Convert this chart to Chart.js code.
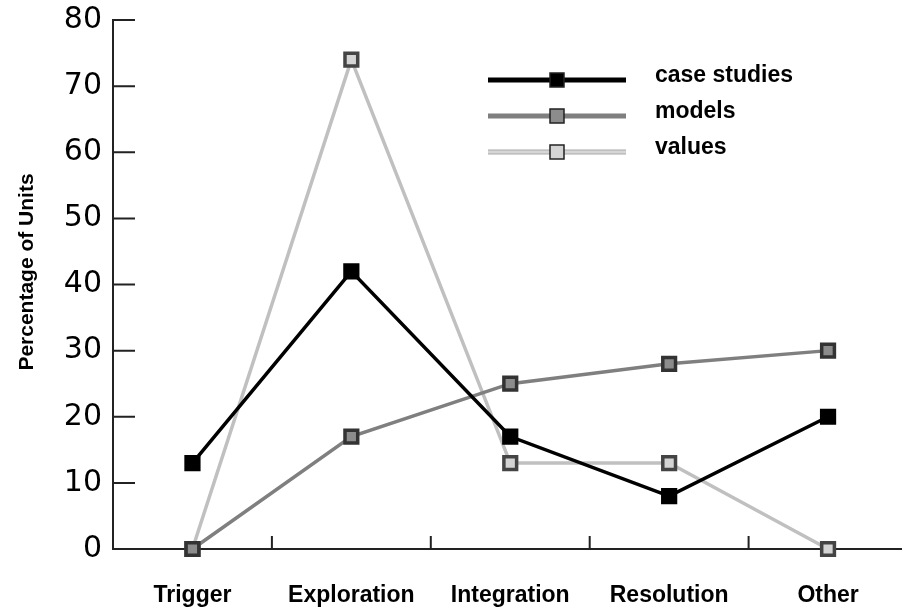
<!DOCTYPE html>
<html>
<head>
<meta charset="utf-8">
<script src="https://cdn.jsdelivr.net/npm/chart.js@4"></script>
<style>
  html, body { margin: 0; padding: 0; background: #fff; overflow: hidden; }
  #wrap { width: 920px; height: 607px; }
</style>
</head>
<body>
<div id="wrap"><canvas id="myChart" width="920" height="607"></canvas></div>
<script>
var stages = ['Trigger', 'Exploration', 'Integration', 'Resolution', 'Other'];
var caseStudies = [13, 42, 17, 8, 20];
var models = [0, 17, 25, 28, 30];
var values = [0, 74, 13, 13, 0];
var yTicks = [0, 10, 20, 30, 40, 50, 60, 70, 80];
var yTitle = 'Percentage of Units';

// inside tick marks, axis title and long-line legend
var extras = {
    id: 'extras',
    afterDraw: function(chart) {
        var ctx = chart.ctx;
        var x = chart.scales.x, y = chart.scales.y;
        ctx.save();
        ctx.strokeStyle = '#222';
        ctx.lineWidth = 2;
        ctx.beginPath();
        for (var i = 0; i < yTicks.length; i++) {
            var py = y.getPixelForValue(yTicks[i]);
            ctx.moveTo(y.right, py);
            ctx.lineTo(y.right + 22, py);
        }
        for (var j = 1; j < stages.length; j++) {
            var px = (x.getPixelForValue(j - 1) + x.getPixelForValue(j)) / 2;
            ctx.moveTo(px, x.top);
            ctx.lineTo(px, x.top - 13);
        }
        ctx.stroke();

        ctx.save();
        ctx.translate(27, 272);
        ctx.rotate(-Math.PI / 2);
        ctx.fillStyle = '#000';
        ctx.font = 'bold 21px "Liberation Sans", Arial, sans-serif';
        ctx.textAlign = 'center';
        ctx.textBaseline = 'middle';
        ctx.fillText(yTitle, 0, 0);
        ctx.restore();

        var rows = [80, 116, 152];
        chart.data.datasets.forEach(function(ds, k) {
            var ly = rows[k];
            if (k == 2) {
                ctx.strokeStyle = '#a8a8a8';
                ctx.lineWidth = 5;
                ctx.beginPath(); ctx.moveTo(488, ly); ctx.lineTo(626, ly); ctx.stroke();
                ctx.strokeStyle = '#d6d6d6';
                ctx.lineWidth = 3;
            } else {
                ctx.strokeStyle = ds.borderColor;
                ctx.lineWidth = 5;
            }
            ctx.beginPath();
            ctx.moveTo(488, ly);
            ctx.lineTo(626, ly);
            ctx.stroke();
            ctx.fillStyle = ds.pointBackgroundColor;
            ctx.fillRect(550, ly - 7, 14, 14);
            ctx.strokeStyle = '#222';
            ctx.lineWidth = 1.5;
            ctx.strokeRect(550, ly - 7, 14, 14);
            ctx.fillStyle = '#000';
            ctx.font = 'bold 23px "Liberation Sans", Arial, sans-serif';
            ctx.textBaseline = 'middle';
            ctx.fillText(ds.label, 655, ly - 4);
        });
        ctx.restore();
    }
};

var ctx = document.getElementById('myChart').getContext('2d');
var myChart = new Chart(ctx, {
    type: 'line',
    data: {
        labels: stages,
        datasets: [{
            label: 'case studies',
            data: caseStudies,
            borderColor: '#000000',
            pointBackgroundColor: '#000000',
            pointBorderColor: '#000000',
            borderWidth: 3.5
        }, {
            label: 'models',
            data: models,
            borderColor: '#7f7f7f',
            pointBackgroundColor: '#8c8c8c',
            pointBorderColor: '#333333',
            borderWidth: 3.5
        }, {
            label: 'values',
            data: values,
            borderColor: '#c0c0c0',
            pointBackgroundColor: '#d4d4d4',
            pointBorderColor: '#444444',
            borderWidth: 3.5
        }]
    },
    options: {
        responsive: false,
        animation: false,
        clip: false,
        layout: { padding: { top: 20, right: 0, bottom: 0, left: 0 } },
        elements: {
            line: { tension: 0 },
            point: { pointStyle: 'rect', radius: 9, borderWidth: 1.2 }
        },
        plugins: { legend: { display: false }, tooltip: { enabled: false } },
        scales: {
            x: {
                offset: true,
                grid: { display: false, drawTicks: false },
                border: { display: true, color: '#222', width: 2 },
                ticks: {
                    padding: 33,
                    color: '#000',
                    font: { family: '"Liberation Sans", Arial, sans-serif', size: 23, weight: 'bold' }
                },
                afterFit: function(s) { s.height = 58; }
            },
            y: {
                min: 0,
                max: 80,
                grid: { display: false, drawTicks: false },
                border: { display: true, color: '#222', width: 2 },
                afterBuildTicks: function(s) { s.ticks = yTicks.map(function(v) { return { value: v }; }); },
                ticks: {
                    padding: 11,
                    color: '#000',
                    font: { family: '"DejaVu Sans", sans-serif', size: 30 }
                },
                afterFit: function(s) { s.width = 113; s.paddingTop = 0; s.paddingBottom = 0; }
            }
        }
    },
    plugins: [extras]
});
</script>
</body>
</html>
